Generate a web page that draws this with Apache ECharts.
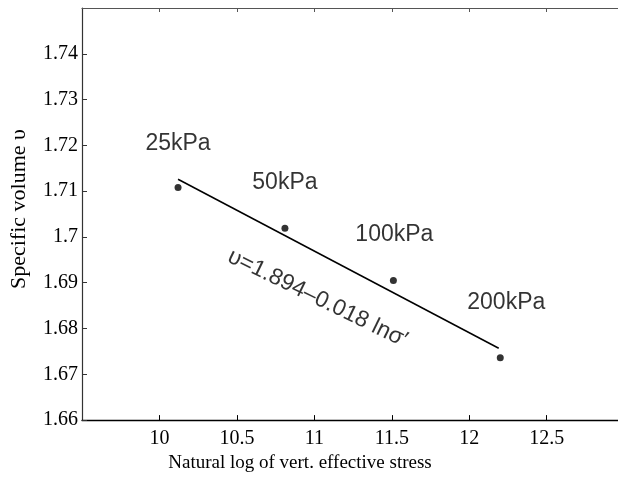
<!DOCTYPE html>
<html>
<head>
<meta charset="utf-8">
<script src="https://cdn.jsdelivr.net/npm/echarts@6/dist/echarts.min.js"></script>
<style>html,body{margin:0;padding:0;background:#fff}#c{width:618px;height:478px}</style>
</head>
<body>
<div id="c"></div>
<script>
// Data
var pressureLabels = ['25kPa', '50kPa', '100kPa', '200kPa'];
var lnStress = [10.12, 10.81, 11.51, 12.20];
var specificVolume = [1.7108, 1.7019, 1.6905, 1.6736];
var fitX = [10.12, 12.19];
var fitY = [1.7126, 1.6757];
var equationText = 'υ=1.894–0.018 lnσ′';
var equationAt = [11.02, 1.6866];
var xTicks = [10, 10.5, 11, 11.5, 12, 12.5];
var yTicks = [1.66, 1.67, 1.68, 1.69, 1.7, 1.71, 1.72, 1.73, 1.74];

var labelOffsets = [[0, -44], [0, -46], [1, -46], [6, -55]];

var serif = '"Liberation Serif", "DejaVu Serif", serif';
var sans = '"Liberation Sans", Arial, sans-serif';

var pts = lnStress.map(function (x, i) {
  return {
    value: [x, specificVolume[i]],
    label: { show: true, formatter: pressureLabels[i], position: 'inside', offset: labelOffsets[i],
             fontFamily: sans, fontSize: 23, color: '#000' }
  };
});

var chart = echarts.init(document.getElementById('c'), null, { renderer: 'canvas' });
chart.setOption({
  animation: false,
  backgroundColor: '#fff',
  grid: { left: 75, top: 8, right: 0, bottom: 52, containLabel: false },
  xAxis: [{
    type: 'value', position: 'bottom', min: 9.5, max: 12.96, interval: 0.5,
    name: 'Natural log of vert. effective stress', nameLocation: 'middle', nameGap: 29,
    nameTextStyle: { fontFamily: serif, fontSize: 19, color: '#000', padding: [0, 100, 0, 0] },
    axisLine: { show: true, onZero: false, lineStyle: { color: '#000', width: 1.4 } },
    axisTick: { show: true, inside: true, length: 5, customValues: xTicks, lineStyle: { color: '#000' } },
    axisLabel: { show: true, customValues: xTicks, margin: 9, fontFamily: serif, fontSize: 20, color: '#000' },
    splitLine: { show: false }
  }, {
    type: 'value', position: 'top', min: 9.5, max: 12.96, interval: 0.5,
    axisLine: { show: true, onZero: false, lineStyle: { color: '#555', width: 1.2 } },
    axisTick: { show: true, inside: true, length: 4, customValues: xTicks, lineStyle: { color: '#555' } },
    axisLabel: { show: false },
    splitLine: { show: false }
  }],
  yAxis: {
    type: 'value', min: 1.66, max: 1.75, interval: 0.01,
    name: 'Specific volume υ', nameLocation: 'middle', nameGap: 52, nameRotate: 90,
    nameTextStyle: { fontFamily: serif, fontSize: 22, color: '#000', padding: [0, 0, 0, 10] },
    axisLine: { show: true, onZero: false, lineStyle: { color: '#333', width: 1.2 } },
    axisTick: { show: true, inside: true, length: 5, customValues: yTicks, lineStyle: { color: '#333' } },
    axisLabel: { show: true, customValues: yTicks, margin: 4, fontFamily: serif, fontSize: 20, color: '#000' },
    splitLine: { show: false }
  },
  series: [{
    type: 'line',
    data: fitX.map(function (x, i) { return [x, fitY[i]]; }),
    symbol: 'none',
    lineStyle: { color: '#000', width: 1.5 },
    z: 2
  }, {
    type: 'scatter',
    data: pts,
    symbol: 'circle', symbolSize: 7,
    itemStyle: { color: '#000' },
    z: 3
  }, {
    type: 'scatter',
    data: [{ value: equationAt }],
    symbolSize: 0,
    silent: true,
    label: { show: true, position: 'inside', formatter: equationText, rotate: -26,
             fontFamily: sans, fontSize: 23, color: '#000' }
  }]
});
</script>
</body>
</html>
